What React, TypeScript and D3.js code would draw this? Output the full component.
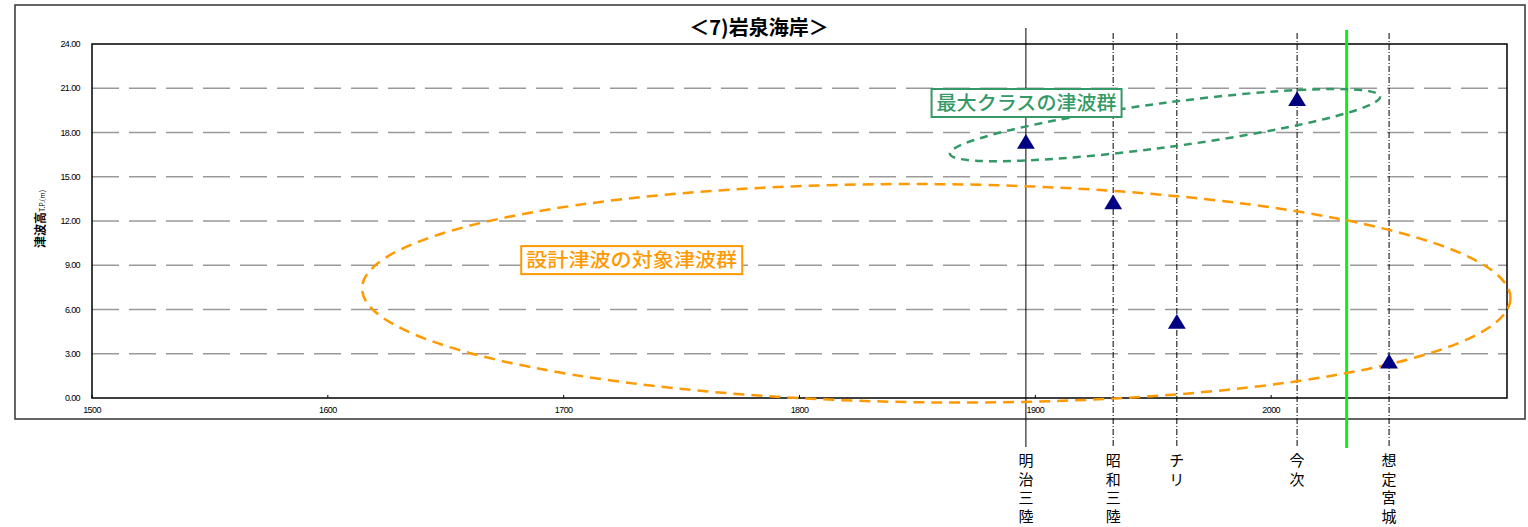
import React from "react";
import * as d3 from "d3";

const title = "＜7)岩泉海岸＞";
const yTicks = [0, 3, 6, 9, 12, 15, 18, 21, 24];
const xTicks = [1500, 1600, 1700, 1800, 1900, 2000];
const eventNames = ["明治三陸", "昭和三陸", "チリ", "今次", "想定宮城"];
const eventYears = [1896, 1933, 1960, 2011, 2050];
const eventHeights = [17.3, 13.2, 5.1, 20.2, 2.4];
const eventSolid = [true, false, false, false, false];
const greenLineYear = 2032;

// annotation ellipses: center year, center height, radius in years, radius in m, rotation (deg)
const groupLabels = ["最大クラスの津波群", "設計津波の対象津波群"];
const groupColors = ["#339966", "#FF9900"];
const groupCenterYears = [1955, 1858];
const groupCenterHeights = [18.5, 7.1];
const groupRadiusYears = [92, 243.5];
const groupRadiusHeights = [1.5, 7.4];
const groupAngles = [-7.6, 0.5];
const groupLabelYears = [1856, 1682];
const groupLabelHeights = [20.0, 9.35];
const groupLabelWidths = [190, 221];

export default function App() {
  const W = 1528, H = 527;
  const left = 92, right = 1507, top = 44, bottom = 398;
  const x = d3.scaleLinear().domain([1500, 2100]).range([left, right]);
  const y = d3.scaleLinear().domain([0, 24]).range([bottom, top]);
  const jp = "'Noto Sans CJK JP', sans-serif";
  const num = "'Liberation Sans', Arial, sans-serif";
  const tri = d3.symbol().type(d3.symbolTriangle).size(125)();

  return (
    <svg width={W} height={H} style={{ position: "absolute", left: 0, top: 0, background: "#fff" }}>
      <rect x={15} y={5} width={1510} height={414} fill="#fff" stroke="#333" strokeWidth={1.5} />
      <text x={759} y={35} textAnchor="middle" fontFamily={jp} fontWeight="bold" fontSize={20}>{title}</text>

      {/* grid */}
      {yTicks.filter(t => t > 0 && t < 24).map(t => (
        <line key={t} x1={left} x2={right} y1={y(t)} y2={y(t)} stroke="#999" strokeWidth={1.5} strokeDasharray="27 10" />
      ))}
      <rect x={left} y={top} width={right - left} height={bottom - top} fill="none" stroke="#000" strokeWidth={1.5} />
      {xTicks.map(t => (
        <g key={t}>
          <line x1={x(t)} x2={x(t)} y1={bottom} y2={bottom - 3} stroke="#000" />
          <text x={x(t)} y={413} textAnchor="middle" fontFamily={num} fontSize={9} letterSpacing={-0.6}>{t}</text>
        </g>
      ))}
      {yTicks.map(t => (
        <text key={t} x={80} y={y(t) + 3} textAnchor="end" fontFamily={num} fontSize={9} letterSpacing={-0.6}>{t.toFixed(2)}</text>
      ))}
      <text transform="translate(45,248) rotate(-90)" fontFamily={jp}>
        <tspan fontSize={12} fontWeight="bold">津波高</tspan>
        <tspan fontSize={7}>T.P.(m)</tspan>
      </text>

      {/* event lines */}
      {eventYears.map((yr, i) => (
        <line key={yr} x1={x(yr)} x2={x(yr)} y1={eventSolid[i] ? 28 : 33} y2={447}
          stroke="#000" strokeWidth={1} strokeDasharray={eventSolid[i] ? undefined : "6 2 1 2"} />
      ))}
      <line x1={x(greenLineYear)} x2={x(greenLineYear)} y1={30} y2={448} stroke="#11ee11" strokeWidth={3} />

      {/* ellipses */}
      {groupLabels.map((_, i) => {
        const cx = x(groupCenterYears[i]);
        const cy = y(groupCenterHeights[i]);
        const rx = x(groupCenterYears[i] + groupRadiusYears[i]) - cx;
        const ry = cy - y(groupCenterHeights[i] + groupRadiusHeights[i]);
        return (
          <ellipse key={i} cx={cx} cy={cy} rx={rx} ry={ry} fill="none" stroke={groupColors[i]}
            strokeWidth={2.5} strokeDasharray={i === 0 ? "8 6" : "11 7"}
            transform={`rotate(${groupAngles[i]},${cx},${cy})`} />
        );
      })}

      {/* markers */}
      {eventYears.map((yr, i) => (
        <path key={yr} d={tri} transform={`translate(${x(yr)},${y(eventHeights[i]) + 1}) scale(1.05,1)`} fill="#000080" />
      ))}

      {/* labels */}
      {groupLabels.map((lab, i) => {
        const lx = x(groupLabelYears[i]);
        const ly = y(groupLabelHeights[i]);
        const w = groupLabelWidths[i];
        return (
          <g key={lab}>
            <rect x={lx} y={ly - 14} width={w} height={28} fill="#fff" stroke={groupColors[i]} strokeWidth={2} />
            <text x={lx + 5} y={ly + 7} fontFamily={jp} fontSize={19} fontWeight={500} fill={groupColors[i]}
              textLength={w - 10} lengthAdjust="spacingAndGlyphs">{lab}</text>
          </g>
        );
      })}

      {/* bottom vertical names */}
      {eventNames.map((name, i) => (
        <text key={name} fontFamily={jp} fontSize={15} textAnchor="middle">
          {Array.from(name).map((ch, k) => (
            <tspan key={k} x={x(eventYears[i])} y={466 + k * 18.5}>{ch}</tspan>
          ))}
        </text>
      ))}
    </svg>
  );
}
